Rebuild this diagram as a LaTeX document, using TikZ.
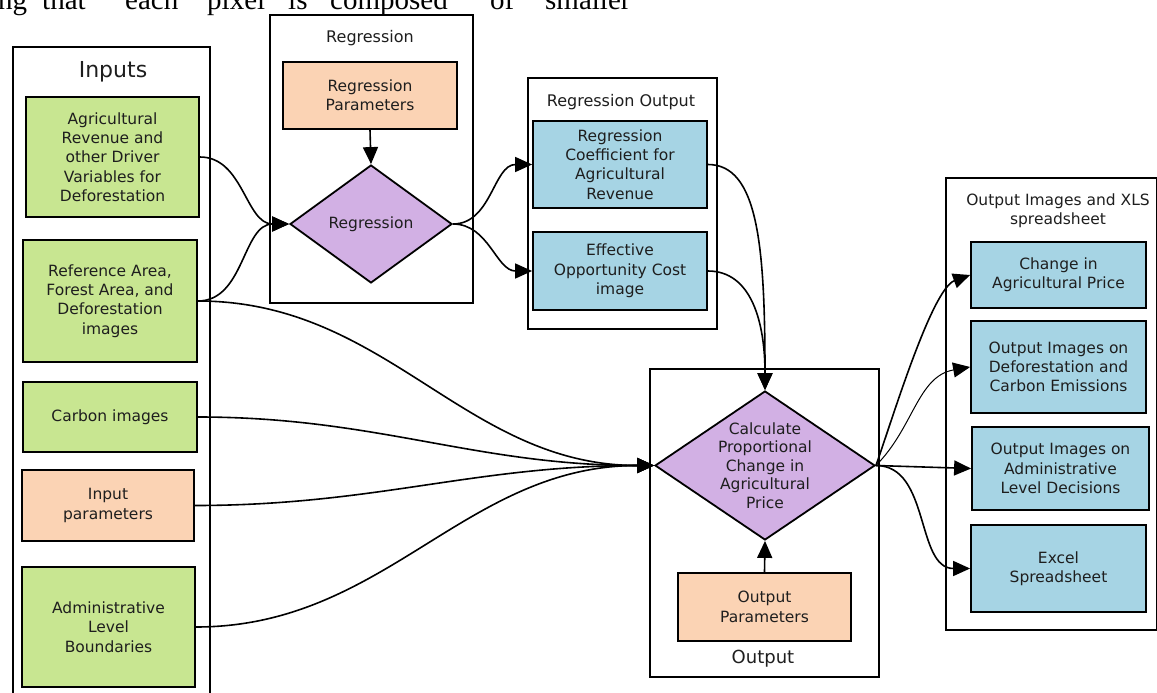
\documentclass[tikz,border=0pt]{standalone}
\usepackage{fontspec}
\setmainfont{DejaVu Sans}
\newfontfamily\pageserif{Liberation Serif}
\usetikzlibrary{arrows.meta,shapes.geometric}
\definecolor{boxgreen}{RGB}{200,230,145}
\definecolor{boxpeach}{RGB}{251,211,180}
\definecolor{boxblue}{RGB}{166,212,228}
\definecolor{boxpurple}{RGB}{210,176,228}
\definecolor{textc}{RGB}{30,30,30}
\begin{document}
\begin{tikzpicture}[x=1pt,y=-1pt,
  box/.style={draw=black, line width=1.8pt, align=center, inner sep=0pt, text=textc,
    font=\fontsize{15.5}{19.3}\selectfont},
  gbox/.style={box, fill=boxgreen},
  pbox/.style={box, fill=boxpeach},
  bbox/.style={box, fill=boxblue},
  diam/.style={diamond, draw=black, line width=1.8pt, fill=boxpurple, inner sep=0pt},
  dtext/.style={align=center, text=textc, inner sep=0pt, font=\fontsize{15.5}{18.4}\selectfont},
  cont/.style={draw=black, line width=1.8pt, inner sep=0pt, anchor=north west},
  ttl/.style={align=center, text=textc, inner sep=0pt, font=\fontsize{15}{19}\selectfont},
  conn/.style={draw=black, line width=1.6pt, -{Triangle[length=17pt,width=15pt]}},
  thinconn/.style={conn, line width=1pt},
  pword/.style={anchor=base west, inner sep=0pt, font=\pageserif\fontsize{29}{34}\selectfont}]
\useasboundingbox (0,0) rectangle (1157,693);
\clip (0,0) rectangle (1157,693);
\fill[white] (0,0) rectangle (1157,693);

% page text fragment
\node[pword] (w1) at (-2,10) {ng};
\node[pword] (w2) at (42,10) {that};
\node[pword] (w3) at (125,10) {each};
\node[pword] (w4) at (207,10) {pixel};
\node[pword] (w5) at (288,10) {is};
\node[pword] (w6) at (330,10) {composed};
\node[pword] (w7) at (490,10) {of};
\node[pword] (w8) at (545,10) {smaller};

% containers
\node[cont, minimum width=197, minimum height=660] (inputs) at (12,46) {};
\node[cont, minimum width=203, minimum height=288] (regc) at (269,14) {};
\node[cont, minimum width=189, minimum height=251] (regoutc) at (527,77) {};
\node[cont, minimum width=229, minimum height=308] (outc) at (649,368) {};
\node[cont, minimum width=211, minimum height=452] (outimg) at (945,177) {};

% container titles
\node[ttl, font=\fontsize{22}{26}\selectfont] (inputs-t) at (113,72) {Inputs};
\node[ttl, font=\fontsize{16}{19}\selectfont] (regc-t) at (370,38) {Regression};
\node[ttl, font=\fontsize{16}{19}\selectfont] (regoutc-t) at (621,102) {Regression Output};
\node[ttl, font=\fontsize{18}{21}\selectfont] (outc-t) at (763,659) {Output};
\node[ttl, font=\fontsize{15.5}{19}\selectfont] (outimg-t) at (1058,211) {Output Images and XLS\\spreadsheet};

% inputs
\node[gbox, minimum width=173, minimum height=120] (agrev) at (112.5,157) {Agricultural\\Revenue and\\other Driver\\Variables for\\Deforestation};
\node[gbox, minimum width=174, minimum height=122] (ref) at (110,301) {Reference Area,\\Forest Area, and\\Deforestation\\images};
\node[gbox, minimum width=174, minimum height=70] (carbon) at (110,417) {Carbon images};
\node[pbox, minimum width=172, minimum height=71] (inparam) at (108,505.5) {Input\\parameters};
\node[gbox, minimum width=173, minimum height=120] (admin) at (108.5,627) {Administrative\\Level\\Boundaries};

% regression
\node[pbox, minimum width=174, minimum height=67] (regparam) at (370,95.5) {Regression\\Parameters};
\node[diam, minimum width=162, minimum height=118] (reg) at (371,224) {};
\node[dtext] (reg-t) at (reg.center) {Regression};

% regression output
\node[bbox, minimum width=174, minimum height=87] (regcoef) at (620,164.5) {Regression\\Coefficient for\\Agricultural\\Revenue};
\node[bbox, minimum width=174, minimum height=78] (effcost) at (620,271) {Effective\\Opportunity Cost\\image};

% output
\node[diam, minimum width=220, minimum height=149] (calc) at (765,465.5) {};
\node[dtext] (calc-t) at (calc.center) {Calculate\\Proportional\\Change in\\Agricultural\\Price};
\node[pbox, minimum width=173, minimum height=68] (outparam) at (764.5,607) {Output\\Parameters};

% output images
\node[bbox, minimum width=175, minimum height=66] (chg) at (1058.5,275) {Change in\\Agricultural Price};
\node[bbox, minimum width=175, minimum height=92] (defo) at (1058.5,367) {Output Images on\\Deforestation and\\Carbon Emissions};
\node[bbox, minimum width=177, minimum height=83] (admdec) at (1060.5,468.5) {Output Images on\\Administrative\\Level Decisions};
\node[bbox, minimum width=175, minimum height=87] (excel) at (1058.5,568.5) {Excel\\Spreadsheet};

% connectors
\draw[conn] (agrev.east) to[out=0,in=180] (reg.west);
\draw[conn] (ref.east) to[out=0,in=180] (reg.west);
\draw[conn] (ref.east) to[out=0,in=180] (calc.west);
\draw[conn] (carbon.east) to[out=0,in=180] (calc.west);
\draw[conn] (inparam.east) to[out=0,in=180] (calc.west);
\draw[conn] (admin.east) to[out=0,in=180] (calc.west);
\draw[conn] (regparam.south) -- (reg.north);
\draw[conn] (reg.east) to[out=0,in=180] (regcoef.west);
\draw[conn] (reg.east) to[out=0,in=180] (effcost.west);
\draw[conn] (regcoef.east) to[out=0,in=90,out looseness=0.55,in looseness=1.6] (calc.north);
\draw[conn] (effcost.east) to[out=0,in=90,out looseness=0.85,in looseness=1.3] (calc.north);
\draw[conn] (outparam.north) -- (calc.south);
\draw[conn] (calc.east) to[out=70,in=200,looseness=0.5] (chg.west);
\draw[thinconn] (calc.east) to[out=45,in=190] (defo.west);
\draw[conn] (calc.east) -- (admdec.west);
\draw[conn] (calc.east) to[out=0,in=180] (excel.west);
\end{tikzpicture}
\end{document}
